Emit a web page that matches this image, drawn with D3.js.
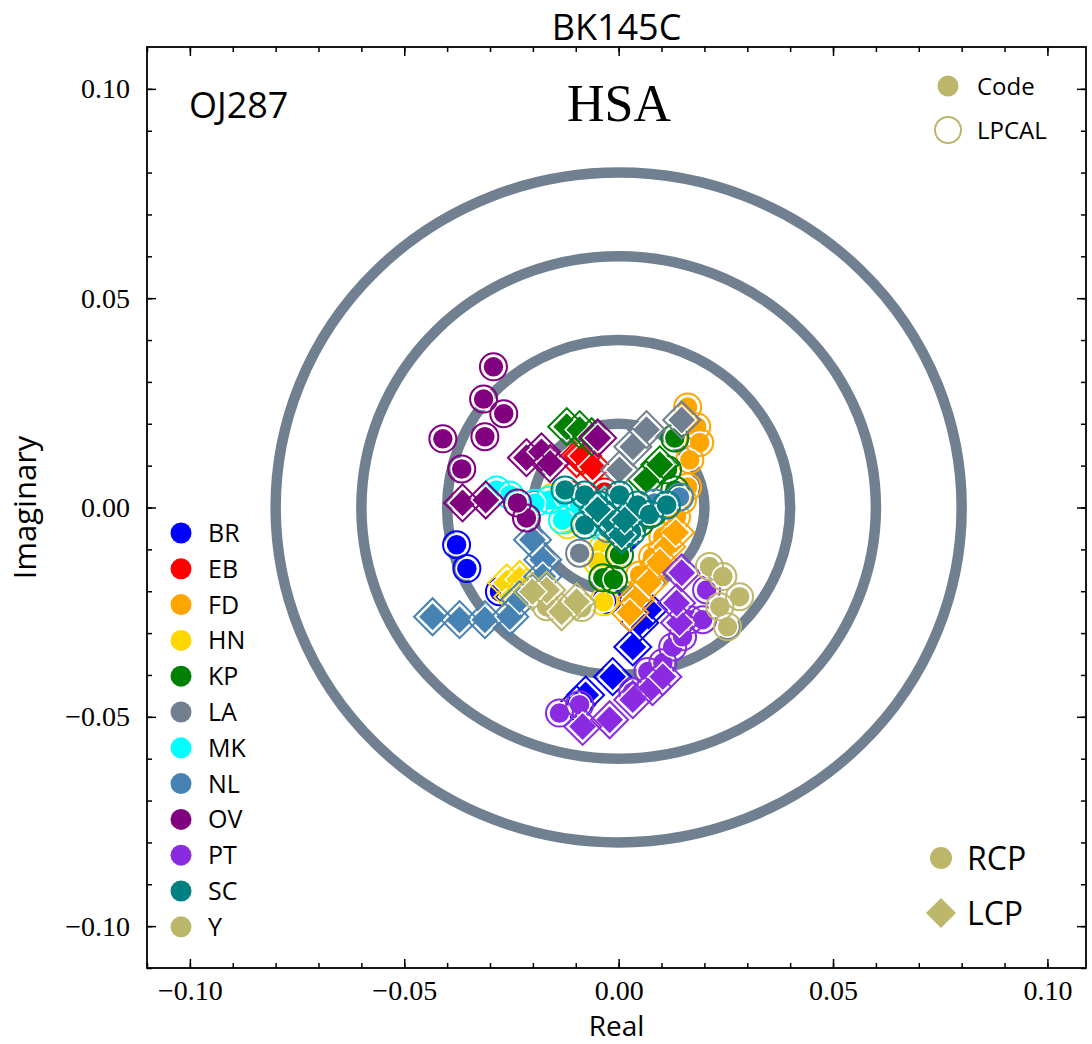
<!DOCTYPE html>
<html>
<head>
<meta charset="utf-8">
<script src="https://cdn.jsdelivr.net/npm/d3@7"></script>
<style>
  html, body { margin: 0; padding: 0; background: #fff; }
  svg { display: block; }
  .sans { font-family: "Open Sans", "Noto Sans", sans-serif; }
  .serif { font-family: "Liberation Serif", "DejaVu Serif", serif; }
</style>
</head>
<body>
<svg id="chart" width="1092" height="1044"></svg>
<script>
// Antenna D-term solutions (real, imaginary) per station.
const stations = ["BR", "EB", "FD", "HN", "KP", "LA", "MK", "NL", "OV", "PT", "SC", "Y"];
const stationColors = ["#0000ff", "#ff0000", "#ffa500", "#ffd700", "#008000", "#708090",
                       "#00ffff", "#4682b4", "#800080", "#8a2be2", "#008080", "#bdb76b"];

// RCP solutions (circles)
const rcpBR = [[-0.0378, -0.0089], [-0.0354, -0.0146], [-0.0278, -0.0201], [-0.0026, -0.0220], [0.0005, -0.0080]];
const rcpEB = [[-0.0110, 0.0030], [-0.0068, 0.0018], [-0.0033, 0.0037], [-0.0079, -0.0017]];
const rcpFD = [[0.0161, 0.0240], [0.0182, 0.0193], [0.0189, 0.0155], [0.0166, 0.0114], [0.0161, 0.0049],
               [0.0149, 0.0018], [0.0135, -0.0022], [0.0103, -0.0070], [0.0079, -0.0118], [0.0049, -0.0161]];
const rcpHN = [[-0.0037, -0.0096], [-0.0009, -0.0113], [-0.0049, -0.0130], [-0.0035, -0.0225],
               [-0.0119, -0.0041], [-0.0156, 0.0024]];
const rcpKP = [[0.0131, 0.0166], [0.0114, 0.0090], [0.0131, 0.0042], [0.0079, -0.0013], [0.0049, -0.0037],
               [0.0002, -0.0113], [-0.0037, -0.0168], [-0.0012, -0.0172]];
const rcpLA = [[-0.0091, -0.0109], [-0.0026, -0.0050]];
const rcpMK = [[-0.0285, 0.0042], [-0.0254, 0.0030], [-0.0161, 0.0018], [-0.0126, 0.0025],
               [-0.0091, 0.0006], [-0.0131, -0.0030], [-0.0195, 0.0010]];
const rcpNL = [[0.0084, 0.0011], [0.0142, 0.0025]];
const rcpOV = [[-0.0292, 0.0336], [-0.0315, 0.0259], [-0.0268, 0.0224], [-0.0312, 0.0169], [-0.0410, 0.0164],
               [-0.0366, 0.0092], [-0.0215, -0.0025], [-0.0236, 0.0011]];
const rcpPT = [[-0.0138, -0.0491], [-0.0091, -0.0471], [0.0033, -0.0440], [0.0068, -0.0392], [0.0103, -0.0371],
               [0.0126, -0.0333], [0.0149, -0.0309], [0.0166, -0.0268], [0.0196, -0.0268], [0.0205, -0.0197]];
const rcpSC = [[-0.0125, 0.0042], [-0.0079, 0.0030], [-0.0044, 0.0006], [0.0002, 0.0030], [0.0044, 0.0006],
               [0.0072, -0.0017], [-0.0016, -0.0042], [0.0030, -0.0058], [0.0112, 0.0006], [-0.0079, -0.0042]];
const rcpY  = [[0.0212, -0.0141], [0.0243, -0.0165], [0.0282, -0.0213], [0.0254, -0.0285], [0.0236, -0.0237],
               [-0.0168, -0.0237], [-0.0086, -0.0239]];

// LCP solutions (diamonds)
const lcpBR = [[0.0070, -0.0244], [0.0049, -0.0275], [0.0033, -0.0333], [-0.0014, -0.0404],
               [-0.0077, -0.0448], [-0.0098, -0.0471], [0.0005, -0.0083]];
const lcpEB = [[-0.0098, 0.0117], [-0.0084, 0.0123], [-0.0061, 0.0097]];
const lcpFD = [[0.0112, -0.0094], [0.0096, -0.0130], [0.0070, -0.0180], [0.0040, -0.0220],
               [0.0026, -0.0251], [0.0133, -0.0060]];
const lcpHN = [[-0.0261, -0.0180], [-0.0231, -0.0172], [-0.0247, -0.0213], [-0.0215, -0.0191]];
const lcpKP = [[-0.0121, 0.0193], [-0.0091, 0.0186], [-0.0063, 0.0169], [0.0065, 0.0066], [0.0096, 0.0102]];
const lcpLA = [[0.0033, 0.0145], [0.0065, 0.0186], [0.0147, 0.0209], [0.0002, 0.0090]];
const lcpMK = [[-0.0056, -0.0030], [-0.0033, 0.0006]];
const lcpNL = [[-0.0434, -0.0261], [-0.0371, -0.0268], [-0.0312, -0.0268], [-0.0254, -0.0261],
               [-0.0231, -0.0220], [-0.0201, -0.0077], [-0.0177, -0.0125], [-0.0177, -0.0165]];
const lcpOV = [[-0.0364, 0.0011], [-0.0310, 0.0018], [-0.0215, 0.0119], [-0.0180, 0.0133],
               [-0.0160, 0.0105], [-0.0049, 0.0166]];
const lcpPT = [[-0.0084, -0.0523], [-0.0021, -0.0507], [0.0033, -0.0459], [0.0079, -0.0428],
               [0.0103, -0.0404], [0.0142, -0.0275], [0.0135, -0.0228], [0.0147, -0.0156]];
const lcpSC = [[-0.0021, -0.0030], [0.0007, -0.0065], [0.0014, -0.0030], [-0.0049, -0.0005]];
const lcpY  = [[-0.0168, -0.0197], [-0.0133, -0.0249], [-0.0201, -0.0201], [-0.0098, -0.0225]];

const rcpData = [rcpBR, rcpEB, rcpFD, rcpHN, rcpKP, rcpLA, rcpMK, rcpNL, rcpOV, rcpPT, rcpSC, rcpY];
const lcpData = [lcpBR, lcpEB, lcpFD, lcpHN, lcpKP, lcpLA, lcpMK, lcpNL, lcpOV, lcpPT, lcpSC, lcpY];

// Reference amplitude rings and axis ticks
const ringRadii = [0.02, 0.04, 0.06, 0.08];
const majorTicks = [-0.10, -0.05, 0.00, 0.05, 0.10];
const minorTicks = d3.range(-11, 11).map(i => i / 100);

const svg = d3.select("#chart");
const x = d3.scaleLinear().domain([-0.11, 0.109]).range([147, 1086]);
const y = d3.scaleLinear().domain([-0.11, 0.11]).range([968, 47]);
const [x0, x1] = x.range();
const [y0, y1] = y.range();

// Rings
svg.append("g").selectAll("ellipse").data(ringRadii).join("ellipse")
  .attr("cx", x(0)).attr("cy", y(0))
  .attr("rx", d => x(d) - x(0)).attr("ry", d => y(0) - y(d))
  .attr("fill", "none").attr("stroke", "#708090").attr("stroke-width", 10.5);

// Markers
const circle = d3.symbol().type(d3.symbolCircle);
const square = d3.symbol().type(d3.symbolSquare);
const marks = svg.append("g");
stations.forEach((s, i) => {
  const c = stationColors[i];
  const g = marks.append("g");
  // RCP Code (filled) and LPCAL (open)
  g.selectAll(null).data(rcpData[i]).join("path")
    .attr("d", circle.size(Math.PI * 10.5 * 10.5)())
    .attr("transform", d => `translate(${x(d[0])},${y(d[1])})`)
    .attr("fill", c).attr("stroke", "#fff").attr("stroke-width", 1.5);
  g.selectAll(null).data(rcpData[i]).join("path")
    .attr("d", circle.size(Math.PI * 13.5 * 13.5)())
    .attr("transform", d => `translate(${x(d[0])},${y(d[1])})`)
    .attr("fill", "none").attr("stroke", c).attr("stroke-width", 2);
  // LCP Code (filled) and LPCAL (open)
  g.selectAll(null).data(lcpData[i]).join("path")
    .attr("d", square.size(Math.pow(14.5 * Math.SQRT2, 2))())
    .attr("transform", d => `translate(${x(d[0])},${y(d[1])}) rotate(45)`)
    .attr("fill", c).attr("stroke", "#fff").attr("stroke-width", 1.5);
  g.selectAll(null).data(lcpData[i]).join("path")
    .attr("d", square.size(Math.pow(18.5 * Math.SQRT2, 2))())
    .attr("transform", d => `translate(${x(d[0])},${y(d[1])}) rotate(45)`)
    .attr("fill", "none").attr("stroke", c).attr("stroke-width", 2);
});

// Axes: ticks point inward on all four sides
const fmt = d3.format(".2f");
function styleAxis(g) {
  g.select(".domain").remove();
  g.selectAll(".tick line").attr("stroke", "#000").attr("stroke-width", 1.5);
}
const axes = [
  [d3.axisBottom(x), `translate(0,${y0})`, 12],
  [d3.axisTop(x), `translate(0,${y1})`, 0],
  [d3.axisLeft(y), `translate(${x0},0)`, 17],
  [d3.axisRight(y), `translate(${x1},0)`, 0]
];
axes.forEach(([ax, tr, pad]) => {
  svg.append("g").attr("transform", tr)
    .call(ax.tickValues(minorTicks).tickSize(-5).tickFormat(""))
    .call(styleAxis);
  const gm = svg.append("g").attr("transform", tr)
    .call(ax.tickValues(majorTicks).tickSize(-9).tickPadding(pad)
          .tickFormat(pad ? fmt : ""))
    .call(styleAxis);
  gm.selectAll(".tick text").attr("class", "serif").attr("font-size", 28).attr("fill", "#000");
});

// Frame
svg.append("rect").attr("x", x0).attr("y", y1).attr("width", x1 - x0).attr("height", y0 - y1)
  .attr("fill", "none").attr("stroke", "#000").attr("stroke-width", 1.8);

// Titles and labels
svg.append("text").attr("class", "sans").attr("x", (x0 + x1) / 2).attr("y", 40)
  .attr("text-anchor", "middle").attr("font-size", 36).text("BK145C");
svg.append("text").attr("class", "sans").attr("x", (x0 + x1) / 2).attr("y", 1036)
  .attr("text-anchor", "middle").attr("font-size", 28).text("Real");
svg.append("text").attr("class", "sans")
  .attr("transform", `translate(36,${(y0 + y1) / 2}) rotate(-90)`)
  .attr("text-anchor", "middle").attr("font-size", 31).text("Imaginary");
svg.append("text").attr("class", "sans").attr("x", 189).attr("y", 118)
  .attr("font-size", 36).text("OJ287");
svg.append("text").attr("class", "serif").attr("x", 619).attr("y", 121)
  .attr("text-anchor", "middle").attr("font-size", 52).text("HSA");

// Station legend
const leg = svg.append("g");
stations.forEach((s, i) => {
  const yy = 533 + i * 35.8;
  leg.append("circle").attr("cx", 181).attr("cy", yy).attr("r", 10.5).attr("fill", stationColors[i]);
  leg.append("text").attr("class", "sans").attr("x", 208).attr("y", yy + 9)
    .attr("font-size", 25).text(s);
});

// Solution legend
const khaki = "#bdb76b";
svg.append("circle").attr("cx", 948).attr("cy", 86).attr("r", 10.5).attr("fill", khaki);
svg.append("text").attr("class", "sans").attr("x", 977).attr("y", 95).attr("font-size", 24).text("Code");
svg.append("circle").attr("cx", 948).attr("cy", 130).attr("r", 13).attr("fill", "none")
  .attr("stroke", khaki).attr("stroke-width", 2);
svg.append("text").attr("class", "sans").attr("x", 977).attr("y", 139).attr("font-size", 24).text("LPCAL");

// Polarisation legend
svg.append("circle").attr("cx", 941).attr("cy", 858).attr("r", 11).attr("fill", khaki);
svg.append("text").attr("class", "sans").attr("x", 967).attr("y", 870).attr("font-size", 32).text("RCP");
svg.append("path").attr("d", square.size(Math.pow(15 * Math.SQRT2, 2))())
  .attr("transform", "translate(941,913) rotate(45)").attr("fill", khaki);
svg.append("text").attr("class", "sans").attr("x", 967).attr("y", 925).attr("font-size", 32).text("LCP");
</script>
</body>
</html>
